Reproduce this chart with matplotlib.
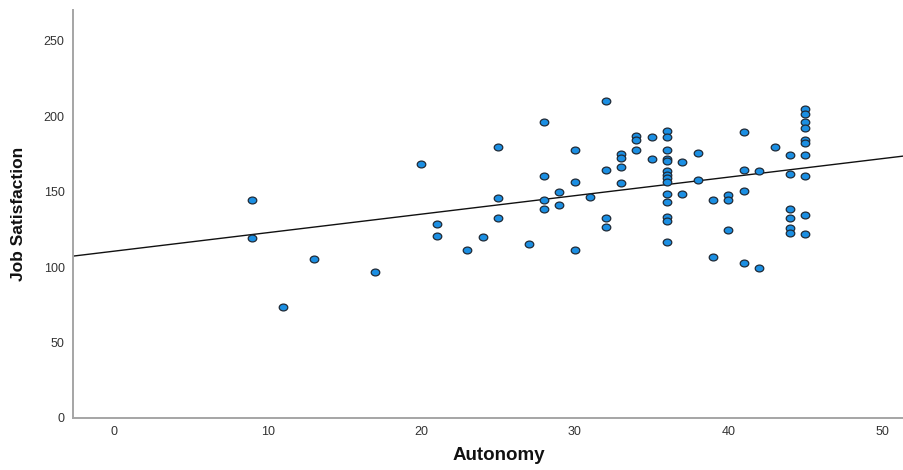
import numpy as np
import matplotlib
matplotlib.use("Agg")
import matplotlib.pyplot as plt
from matplotlib.path import Path
from matplotlib.transforms import Affine2D

# Autonomy (x) and Job Satisfaction (y) values
autonomy = [9, 9, 11, 13, 17, 20, 21, 21, 23, 24,
            25, 25, 25, 27, 28, 28, 28, 28, 29, 29,
            30, 30, 30, 31, 32, 32, 32, 32,
            33, 33, 33, 33, 34, 34, 34, 35, 35,
            36, 36, 36, 36, 36, 36, 36, 36, 36, 36, 36, 36, 36, 36,
            37, 37, 38, 38, 39, 39, 40, 40, 40,
            41, 41, 41, 41, 42, 42, 43,
            44, 44, 44, 44, 44, 44,
            45, 45, 45, 45, 45, 45, 45, 45, 45, 45]
job_satisfaction = [144.6, 119.4, 73.6, 105.4, 96.8, 168.4, 128.6, 120.7, 111.4, 120.0,
                    180.0, 146.0, 132.6, 115.4, 196.0, 160.5, 144.6, 138.6, 150.0, 141.5,
                    178.0, 156.5, 111.4, 146.6, 210.0, 164.5, 132.6, 126.7,
                    175.0, 172.5, 166.4, 155.5, 187.0, 184.4, 178.0, 186.4, 171.7,
                    190.0, 186.4, 178.0, 171.7, 170.4, 163.8, 161.1, 159.0, 156.5, 148.5, 143.0, 133.3, 130.6, 116.7,
                    169.8, 148.5, 175.7, 157.8, 144.6, 106.8, 147.8, 144.6, 124.7,
                    189.6, 164.5, 150.5, 102.8, 163.8, 99.5, 179.7,
                    174.6, 161.6, 138.6, 132.8, 125.8, 122.7,
                    204.8, 201.6, 196.5, 192.5, 184.4, 182.6, 174.6, 160.5, 134.6, 121.8]

# Fit line
fit_intercept = 110.6
fit_slope = 1.227

x_ticks = [0, 10, 20, 30, 40, 50]
y_ticks = [0, 50, 100, 150, 200, 250]

fig = plt.figure(figsize=(9.04, 4.70), dpi=100)
ax = fig.add_axes([73 / 904, 52 / 470, 831 / 904, 408 / 470])

xlim = (-2.67, 51.43)
ylim = (0, 270.5)

# elliptical marker
ell = Path.unit_circle().transformed(Affine2D().scale(1.0, 0.8))

ax.scatter(autonomy, job_satisfaction, marker=ell, s=38, facecolor="#1b8fe3",
           edgecolor="#1f2a36", linewidth=0.9, zorder=3)

lx = np.array(xlim)
ax.plot(lx, fit_intercept + fit_slope * lx, color="#111111", linewidth=1.0, zorder=2)

ax.set_xlim(*xlim)
ax.set_ylim(*ylim)
ax.set_xticks(x_ticks)
ax.set_yticks(y_ticks)
ax.tick_params(length=0, labelsize=9, labelcolor="#333333")
ax.tick_params(axis="x", pad=6)
ax.tick_params(axis="y", pad=6)
for lab in ax.get_xticklabels() + ax.get_yticklabels():
    lab.set_family(["Liberation Sans", "DejaVu Sans"])

for s in ["top", "right"]:
    ax.spines[s].set_visible(False)
for s in ["left", "bottom"]:
    ax.spines[s].set_color("#a5a5a5")
    ax.spines[s].set_linewidth(1.4)

ax.set_xlabel("Autonomy", fontsize=13.5, fontweight="bold",
              family=["Liberation Sans", "DejaVu Sans"], color="#111111")
ax.xaxis.set_label_coords(0.512, -0.07)
ax.set_ylabel("Job Satisfaction", fontsize=12.5, fontweight="bold",
              family=["Liberation Sans Narrow", "Liberation Sans", "DejaVu Sans"], color="#111111")
ax.yaxis.set_label_coords(-0.057, 0.5)

fig.savefig("out.png", dpi=100)
